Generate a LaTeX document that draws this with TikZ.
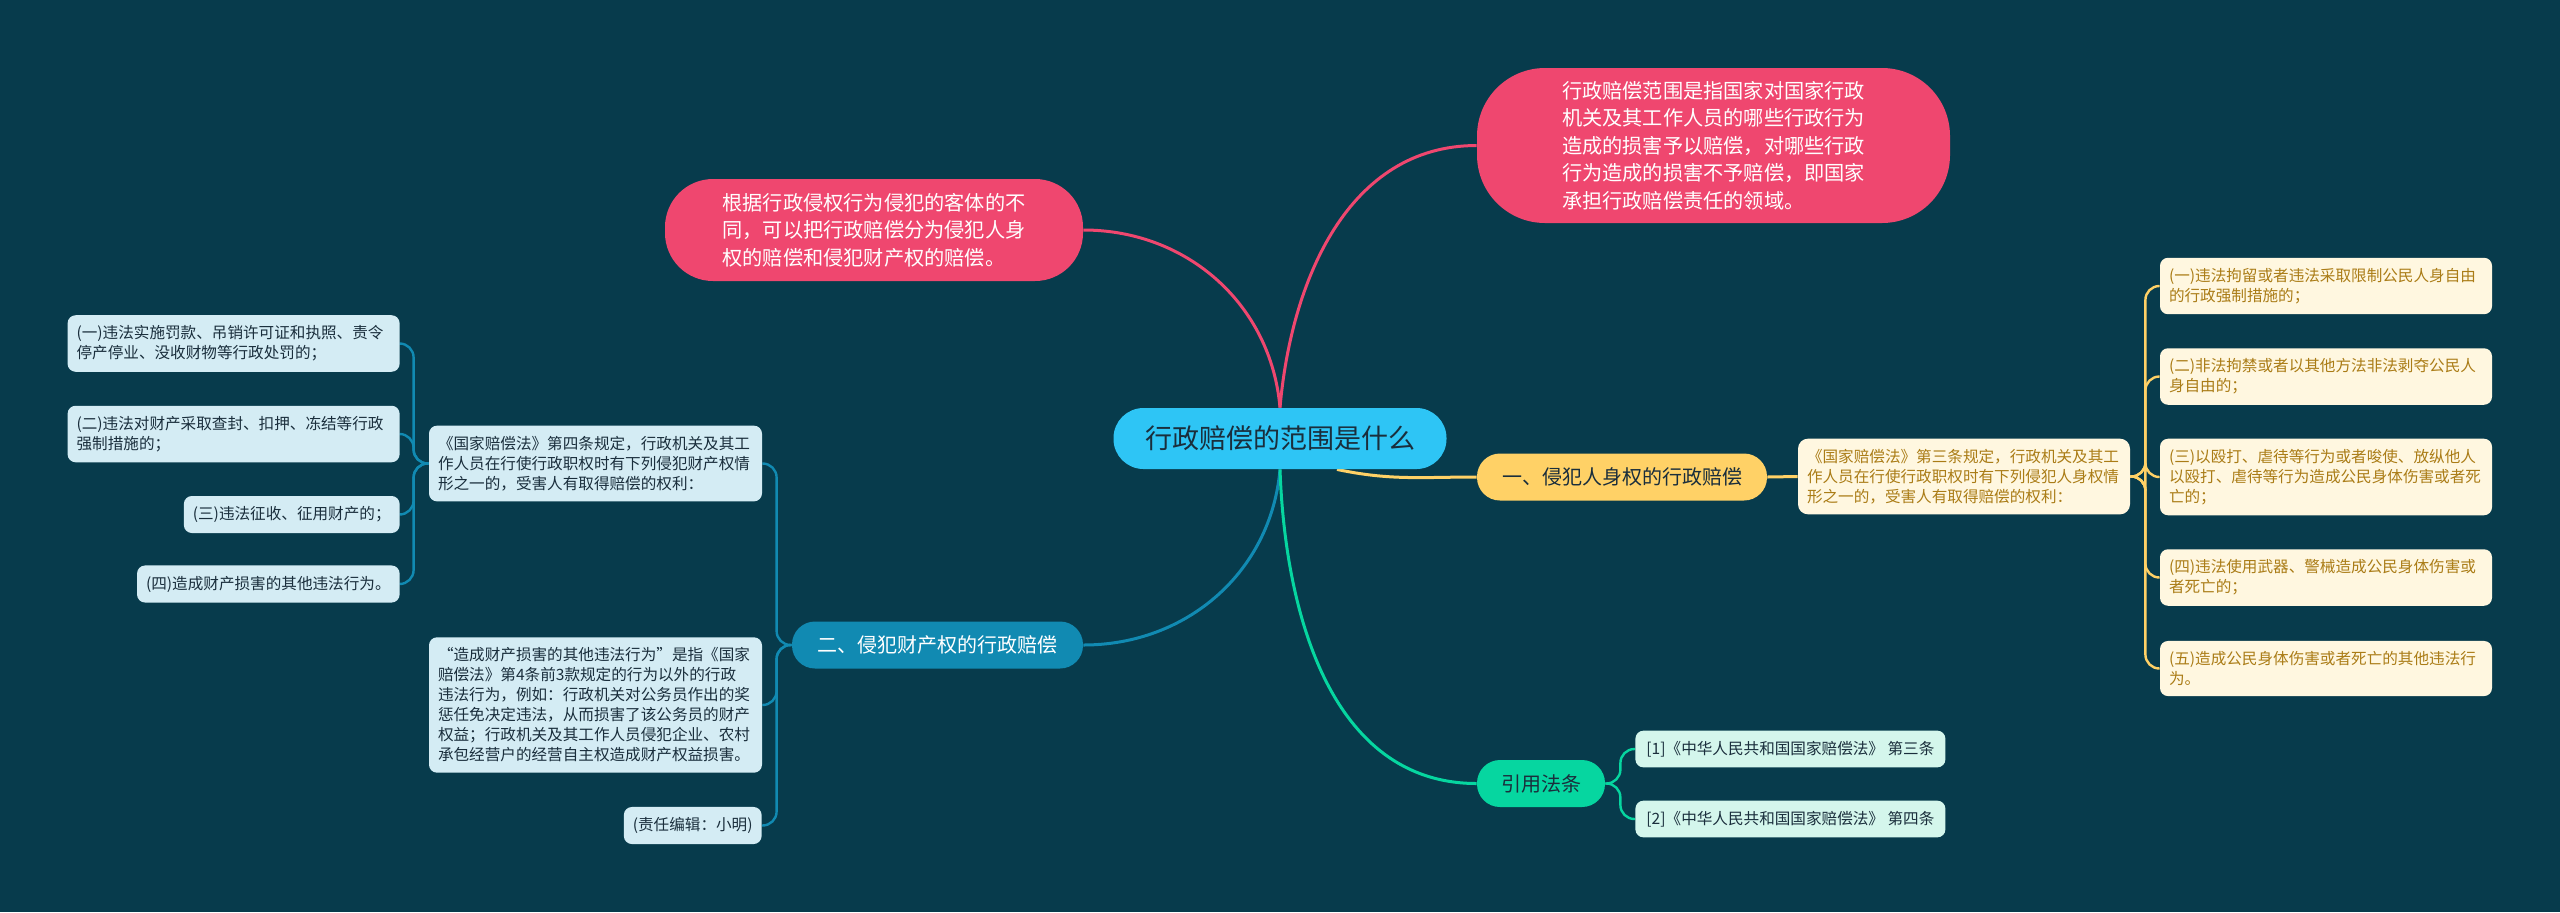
\documentclass[tikz,border=0pt]{standalone}
\usepackage{fontspec}
\usepackage{xcolor}
\usepackage{tikz}
\usetikzlibrary{calc,backgrounds}
\newfontfamily\cjk{Noto Sans CJK SC}
\definecolor{mapbg}{RGB}{7,59,76}
\definecolor{maproot}{RGB}{46,197,245}
\definecolor{mappink}{RGB}{239,71,111}
\definecolor{mapgold}{RGB}{255,209,102}
\definecolor{mapblue}{RGB}{17,138,178}
\definecolor{mapgreen}{RGB}{6,214,160}
\definecolor{goldfill}{RGB}{255,247,224}
\definecolor{goldtext}{RGB}{170,124,22}
\definecolor{bluefill}{RGB}{212,236,244}
\definecolor{greenfill}{RGB}{212,246,236}
\definecolor{inktext}{RGB}{26,46,60}

\begin{document}
\begin{tikzpicture}[x=0.5pt,y=-0.5pt,
        every node/.style={font=\cjk,inner sep=0pt},
        hub/.style={fill=maproot,text=inktext,rounded corners=15pt,minimum width=166.5pt,
                    minimum height=30.5pt,font=\cjk\fontsize{13.5}{16}\selectfont},
        bubble/.style={fill=mappink,text=white,align=left,font=\cjk\fontsize{10.1}{13.8}\selectfont},
        topic/.style={rounded corners=11.5pt,minimum height=23.5pt,font=\cjk\fontsize{10}{12}\selectfont},
        leaf/.style={rounded corners=4pt,align=left,inner xsep=4.5pt,inner ysep=5.2pt,
                     font=\cjk\fontsize{7.8}{10}\selectfont},
        goldleaf/.style={leaf,fill=goldfill,text=goldtext,text width=157pt},
        blueleaf/.style={leaf,fill=bluefill,text=inktext},
        greenleaf/.style={leaf,fill=greenfill,text=inktext,minimum width=155pt},
        link/.style={line width=1.5pt},
        bracket/.style={line width=1.2pt,rounded corners=7pt}]
    \useasboundingbox (0,0) rectangle (2560,912);

    % centre
    \node[hub] (root) at (1280,438.5) {行政赔偿的范围是什么};

    % pink notes
    \node[bubble,rounded corners=34pt,minimum width=236.5pt,minimum height=77.5pt] (scope) at (1713.5,145.5)
        {行政赔偿范围是指国家对国家行政\\机关及其工作人员的哪些行政行为\\造成的损害予以赔偿，对哪些行政\\行为造成的损害不予赔偿，即国家\\承担行政赔偿责任的领域。};
    \node[bubble,rounded corners=24pt,minimum width=209pt,minimum height=51pt] (divide) at (874,230)
        {根据行政侵权行为侵犯的客体的不\\同，可以把行政赔偿分为侵犯人身\\权的赔偿和侵犯财产权的赔偿。};

    % personal rights
    \node[topic,fill=mapgold,text=inktext,minimum width=145pt] (personal) at (1622,477) {一、侵犯人身权的行政赔偿};
    \node[goldleaf,rounded corners=5pt] (plaw) at (1964,476.5)
        {《国家赔偿法》第三条规定，行政机关及其工\\作人员在行使行政职权时有下列侵犯人身权情\\形之一的，受害人有取得赔偿的权利：};
    \node[goldleaf] (r1) at (2326,286) {(一)违法拘留或者违法采取限制公民人身自由\\的行政强制措施的；};
    \node[goldleaf] (r2) at (2326,376.5) {(二)非法拘禁或者以其他方法非法剥夺公民人\\身自由的；};
    \node[goldleaf] (r3) at (2326,477) {(三)以殴打、虐待等行为或者唆使、放纵他人\\以殴打、虐待等行为造成公民身体伤害或者死\\亡的；};
    \node[goldleaf] (r4) at (2326,577.5) {(四)违法使用武器、警械造成公民身体伤害或\\者死亡的；};
    \node[goldleaf] (r5) at (2326,668.5) {(五)造成公民身体伤害或者死亡的其他违法行\\为。};

    % property rights
    \node[topic,fill=mapblue,text=white,minimum width=145.5pt] (bmain) at (937.5,645) {二、侵犯财产权的行政赔偿};
    \node[blueleaf,text width=157.5pt] (blaw) at (595.5,463.5)
        {《国家赔偿法》第四条规定，行政机关及其工\\作人员在行使行政职权时有下列侵犯财产权情\\形之一的，受害人有取得赔偿的权利：};
    \node[blueleaf,text width=157.5pt] (bnote) at (595.5,705)
        {“造成财产损害的其他违法行为”是指《国家\\赔偿法》第4条前3款规定的行为以外的行政\\违法行为，例如：行政机关对公务员作出的奖\\惩任免决定违法，从而损害了该公务员的财产\\权益；行政机关及其工作人员侵犯企业、农村\\承包经营户的经营自主权造成财产权益损害。};
    \node[blueleaf,anchor=east] (editor) at (762,825.5) {(责任编辑：小明)};
    \node[blueleaf,text width=157pt,anchor=east] (l1) at (400,343.5) {(一)违法实施罚款、吊销许可证和执照、责令\\停产停业、没收财物等行政处罚的；};
    \node[blueleaf,text width=157pt,anchor=east] (l2) at (400,434) {(二)违法对财产采取查封、扣押、冻结等行政\\强制措施的；};
    \node[blueleaf,anchor=east] (l3) at (400,514.5) {(三)违法征收、征用财产的；};
    \node[blueleaf,anchor=east] (l4) at (400,584) {(四)造成财产损害的其他违法行为。};

    % cited laws
    \node[topic,fill=mapgreen,text=inktext,minimum width=64pt] (gmain) at (1541,783.5) {引用法条};
    \node[greenleaf,anchor=west] (g1) at (1635,749) {[1]《中华人民共和国国家赔偿法》 第三条};
    \node[greenleaf,anchor=west] (g2) at (1635,819) {[2]《中华人民共和国国家赔偿法》 第四条};

    \begin{scope}[on background layer]
        \fill[mapbg] (0,0) rectangle (2560,912);
        \draw[link,mappink] (root.north) to[out=85,in=180] (scope.west);
        \draw[link,mappink] (root.north) to[out=95,in=0] (divide.east);
        \draw[link,mapgold] ($(root.south)+(57,0)$) to[out=-12,in=180] (personal.west);
        \draw[link,mapblue] (root.south) to[out=-95,in=0] (bmain.east);
        \draw[link,mapgreen] (root.south) to[out=-88,in=180] (gmain.west);
        \draw[link,mapgold] (personal.east) -- (plaw.west);
        \foreach \k in {r1,r2,r3,r4,r5}
            \draw[bracket,mapgold] (plaw.east) -- ++(15,0) |- (\k.west);
        \foreach \k in {blaw,bnote,editor}
            \draw[bracket,mapblue] (bmain.west) -- ++(-15,0) |- (\k.east);
        \foreach \k in {l1,l2,l3,l4}
            \draw[bracket,mapblue] (blaw.west) -- ++(-15,0) |- (\k.east);
        \foreach \k in {g1,g2}
            \draw[bracket,mapgreen] (gmain.east) -- ++(15,0) |- (\k.west);
    \end{scope}
\end{tikzpicture}
\end{document}
